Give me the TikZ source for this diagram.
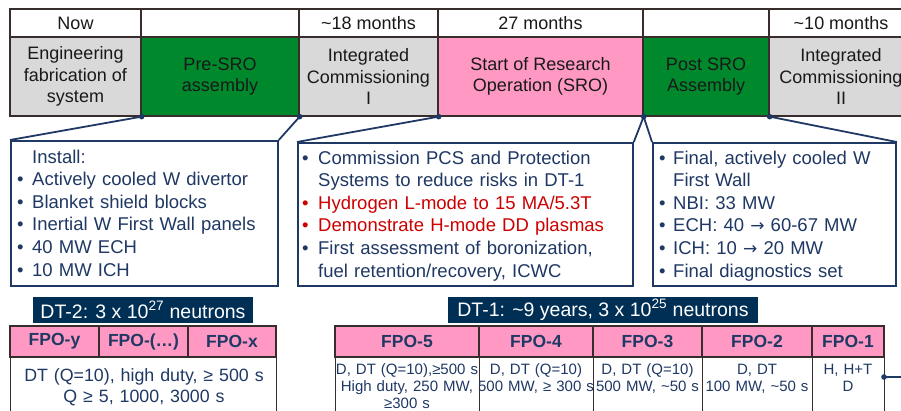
\documentclass[tikz,border=0pt]{standalone}
\usepackage{fontspec}
\setmainfont{Liberation Sans}
\newfontfamily\arrowfont{DejaVu Sans}
\definecolor{cgreen}{RGB}{0,136,44}
\definecolor{cpink}{RGB}{255,153,196}
\definecolor{cgray}{RGB}{217,217,217}
\definecolor{cnavy}{RGB}{0,47,86}
\definecolor{ctext}{RGB}{31,56,100}
\definecolor{cred}{RGB}{204,0,0}
\definecolor{cborder}{RGB}{55,45,45}
\newcommand\mybul[1]{\makebox[#1][l]{•}}
\newcommand\myarrow{{\arrowfont\fontsize{17}{20}\selectfont →}}
\begin{document}
\begin{tikzpicture}[x=1pt,y=-1pt,
  cell/.style={draw=cborder, line width=1.3pt, inner sep=0pt, align=center,
    text=black!90, font=\fontsize{18}{21.5}\selectfont},
  hdr/.style={cell, fill=white, minimum height=28pt},
  phase/.style={cell, minimum height=79pt},
  callout/.style={draw=ctext, line width=1.8pt, fill=white, inner sep=0pt, anchor=north west},
  conn/.style={draw=ctext, line width=1.8pt},
  dot/.style={fill=ctext},
  boxtext/.style={anchor=base west, inner sep=0pt, align=left, text=ctext,
    font=\fontsize{18.5}{22.6}\selectfont},
  dtlabel/.style={fill=cnavy, text=white, inner sep=0pt, minimum height=26pt,
    font=\fontsize{19.5}{22}\selectfont},
  fpohead/.style={draw=cborder, line width=1.3pt, fill=cpink, inner sep=0pt,
    minimum height=31pt, text=ctext, font=\bfseries\fontsize{17.5}{20}\selectfont},
  fpobody/.style={draw=cborder, line width=1.3pt, fill=white, inner sep=0pt,
    minimum height=63pt, anchor=north west},
  fpotext/.style={anchor=base, inner sep=0pt, align=center, text=ctext,
    font=\fontsize{15}{17}\selectfont}
]
\useasboundingbox (0,0) rectangle (901,410);
\clip (0,0) rectangle (901,410);

% header row
\node[hdr, minimum width=131pt] (h1) at (75.5,23) {Now};
\node[hdr, minimum width=158pt] (h2) at (220,23) {};
\node[hdr, minimum width=139pt] (h3) at (368.5,23) {\textasciitilde18 months};
\node[hdr, minimum width=205pt] (h4) at (540.5,23) {27 months};
\node[hdr, minimum width=126pt] (h5) at (706,23) {};
\node[hdr, minimum width=144pt] (h6) at (841,23) {\textasciitilde10 months};

% phase row
\node[phase, fill=cgray, minimum width=131pt] (p1) at (75.5,76.5) {Engineering\\fabrication of\\system};
\node[phase, fill=cgreen, minimum width=158pt] (p2) at (220,76.5) {Pre-SRO\\assembly};
\node[phase, fill=cgray, minimum width=139pt] (p3) at (368.5,76.5) {Integrated\\Commissioning\\I};
\node[phase, fill=cpink, minimum width=205pt] (p4) at (540.5,76.5) {Start of Research\\Operation (SRO)};
\node[phase, fill=cgreen, minimum width=126pt] (p5) at (706,76.5) {Post SRO\\Assembly};
\node[phase, fill=cgray, minimum width=144pt] (p6) at (841,76.5) {Integrated\\Commissioning\\II};

\coordinate (d1) at (p1.south east);
\coordinate (d2) at (p2.south east);
\coordinate (d3) at (p3.south east);
\coordinate (d4) at (p4.south east);
\coordinate (d5) at (p5.south east);

% callout boxes
\node[callout, minimum width=267pt, minimum height=145pt] (b1) at (10,140) {};
\node[callout, minimum width=335pt, minimum height=143pt] (b2) at (297,142) {};
\node[callout, minimum width=243pt, minimum height=143pt] (b3) at (652,142) {};

\draw[conn] (d1) -- (b1.north west);
\draw[conn] (d2) -- (b1.north east);
\draw[conn] (d3) -- (b2.north west);
\draw[conn] (d4) -- (b2.north east);
\draw[conn] (d4) -- (b3.north west);
\draw[conn] (d5) -- (b3.north east);
\foreach \d in {d1,d2,d3,d4,d5} \fill[dot] (\d) circle (2.8pt);

\node[boxtext, text width=258pt] (t1) at (17,163) {%
\hspace*{15pt}Install:\\
\mybul{15pt}Actively cooled W divertor\\
\mybul{15pt}Blanket shield blocks\\
\mybul{15pt}Inertial W First Wall panels\\
\mybul{15pt}40 MW ECH\\
\mybul{15pt}10 MW ICH};

\node[boxtext, text width=328pt] (t2) at (302,164) {%
\mybul{16pt}Commission PCS and Protection\\
\hspace*{16pt}Systems to reduce risks in DT-1\\
{\color{cred}\mybul{16pt}Hydrogen L-mode to 15 MA/5.3T}\\
{\color{cred}\mybul{16pt}Demonstrate H-mode DD plasmas}\\
\mybul{16pt}First assessment of boronization,\\
\hspace*{16pt}fuel retention/recovery, ICWC};

\node[boxtext, text width=234pt] (t3) at (659,164) {%
\mybul{14pt}Final, actively cooled W\\
\hspace*{14pt}First Wall\\
\mybul{14pt}NBI: 33 MW\\
\mybul{14pt}ECH: 40 \myarrow{} 60-67 MW\\
\mybul{14pt}ICH: 10 \myarrow{} 20 MW\\
\mybul{14pt}Final diagnostics set};

% DT-2
\node[dtlabel, minimum width=220pt] (l2) at (143,310) {DT-2: 3 x 10\textsuperscript{27} neutrons};
\node[fpohead, minimum width=89pt] (fy) at (54.5,341.5) {FPO-y};
\node[fpohead, minimum width=89pt] (fd) at (143.5,341.5) {FPO-(…)};
\node[fpohead, minimum width=88pt] (fx) at (232,341.5) {FPO-x};
\node[fpobody, minimum width=266pt] (b2b) at (10,357) {};
\node[anchor=base, inner sep=0pt, align=center, text=ctext, text width=280pt,
  font=\fontsize{17.8}{21}\selectfont] (t2b) at (144,381) {DT (Q=10), high duty, ≥ 500 s\\Q ≥ 5, 1000, 3000 s};

% DT-1
\node[dtlabel, minimum width=310pt] (l1) at (603,310) {DT-1: \textasciitilde9 years, 3 x 10\textsuperscript{25} neutrons};
\node[fpohead, minimum width=144pt] (f5) at (407,341.5) {FPO-5};
\node[fpohead, minimum width=114pt] (f4) at (536,341.5) {FPO-4};
\node[fpohead, minimum width=109pt] (f3) at (647.5,341.5) {FPO-3};
\node[fpohead, minimum width=110pt] (f2) at (757,341.5) {FPO-2};
\node[fpohead, minimum width=72pt] (f1) at (848,341.5) {FPO-1};
\node[fpobody, minimum width=144pt] (f5b) at (335,357) {};
\node[fpobody, minimum width=114pt] (f4b) at (479,357) {};
\node[fpobody, minimum width=109pt] (f3b) at (593,357) {};
\node[fpobody, minimum width=110pt] (f2b) at (702,357) {};
\node[fpobody, minimum width=72pt] (f1b) at (812,357) {};
\node[fpotext, text width=160pt] (f5t) at (407,374) {D, DT (Q=10),≥500 s\\High duty, 250 MW,\\≥300 s};
\node[fpotext, text width=130pt] (f4t) at (536,374) {D, DT (Q=10)\\500 MW, ≥ 300 s};
\node[fpotext, text width=125pt] (f3t) at (647.5,374) {D, DT (Q=10)\\500 MW, \textasciitilde50 s};
\node[fpotext, text width=125pt] (f2t) at (757,374) {D, DT\\100 MW, \textasciitilde50 s};
\node[fpotext, text width=80pt] (f1t) at (848,374) {H, H+T\\D};

\coordinate (e1) at (884,377);
\coordinate (e2) at (905,377);
\draw[conn] (e1) -- (e2);
\fill[dot] (e1) circle (2.8pt);
\end{tikzpicture}
\end{document}
